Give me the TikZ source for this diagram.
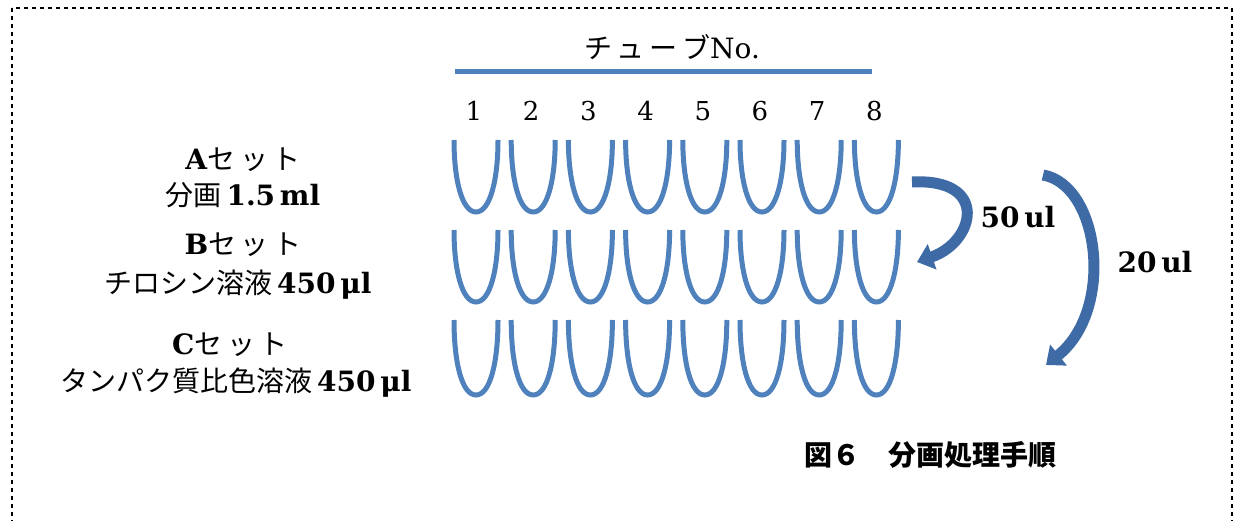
\documentclass[tikz,border=0pt]{standalone}
\usepackage{fontspec}
\setmainfont{DejaVu Serif}
\newfontfamily\jp{Noto Sans CJK JP}
\usetikzlibrary{arrows.meta,positioning}
\definecolor{tubeblue}{RGB}{79,129,189}
\definecolor{arrowblue}{RGB}{62,106,166}

\begin{document}
\begin{tikzpicture}[x=0.5pt, y=0.5pt,
  lbl/.style={font=\fontsize{14}{16}\selectfont, inner sep=0pt, align=center},
  num/.style={font=\fontsize{13}{15}\selectfont, inner sep=0pt},
  tube/.style={draw=tubeblue, line width=2.5pt},
  arr/.style={draw=arrowblue, line width=5.5pt, -{Triangle[width=13pt,length=8pt]}}
]
\useasboundingbox (0,0) rectangle (1236,520);
\draw[dash pattern=on 2pt off 2pt, line width=0.6pt] (12,512) rectangle (1232,-20);

% tube numbers
\node[lbl] (head) at (672,473) {{\jp チ\,ュ\,ー\,ブ}No.};
\draw[tubeblue, line width=2.5pt] (455,448) -- (872,448);
\foreach \i in {1,...,8}
  \node[num] (n\i) at ({474+57.2*(\i-1)},409) {\i};

% tubes: three sets of eight
\foreach \yt/\yb in {380/308, 290/218, 200/125}
  \foreach \i in {0,...,7}
    \draw[tube] ({476+57.2*\i-22},\yt) .. controls ({476+57.2*\i-22},{\yb+32}) and ({476+57.2*\i-14},\yb) .. ({476+57.2*\i},\yb)
      .. controls ({476+57.2*\i+14},\yb) and ({476+57.2*\i+22},{\yb+32}) .. ({476+57.2*\i+22},\yt);

% set labels
\node[lbl] (seta) at (243,360) {\textbf{A}{\jp セ\,ッ\,ト}};
\node[lbl] (fraca) at (243,325) {{\jp 分画}\,\textbf{1.5\,ml}};
\node[lbl] (setb) at (243,275) {\textbf{B}{\jp セ\,ッ\,ト}};
\node[lbl] (solb) at (238,235) {{\jp チロシン溶液}\,\textbf{450\,μl}};
\node[lbl] (setc) at (230,175) {\textbf{C}{\jp セ\,ッ\,ト}};
\node[lbl] (solc) at (236,137) {{\jp タンパク質比色溶液}\,\textbf{450\,μl}};

% transfers
\coordinate (s50) at (912,338);
\coordinate (e50) at (917,258);
\coordinate (s20) at (1043,345);
\coordinate (e20) at (1046,155);
\draw[arr] (s50) .. controls (990,342) and (975,278) .. (e50);
\draw[arr] (s20) .. controls (1100,335) and (1115,210) .. (e20);
\node[lbl] (v50) at (1018,303) {\textbf{50\,ul}};
\node[lbl] (v20) at (1155,258) {\textbf{20\,ul}};

\node[lbl, font=\fontsize{14}{16}\selectfont] (cap) at (930,65) {\jp\bfseries 図６　分画処理手順};
\end{tikzpicture}
\end{document}
